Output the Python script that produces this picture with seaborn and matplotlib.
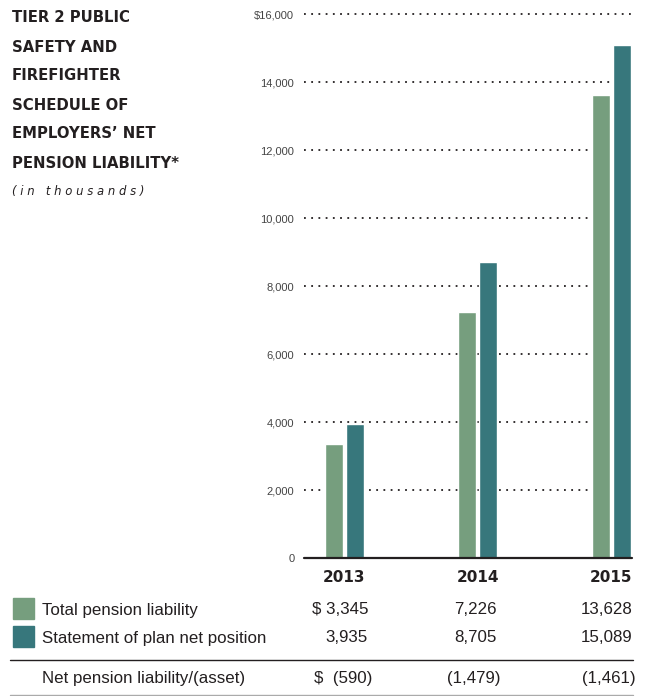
import matplotlib
matplotlib.use("Agg")
import matplotlib.pyplot as plt
from matplotlib.patches import Rectangle
from matplotlib.lines import Line2D
import seaborn as sns
import pandas as pd

# ---- data (in thousands) ----
years = ["2013", "2014", "2015"]
total_pension_liability = [3345, 7226, 13628]
plan_net_position = [3935, 8705, 15089]
net_pension_liability = ["$  (590)", "(1,479)", "(1,461)"]
total_labels = ["$ 3,345", "7,226", "13,628"]
position_labels = ["3,935", "8,705", "15,089"]
series_names = ["Total pension liability", "Statement of plan net position"]
y_ticks = [0, 2000, 4000, 6000, 8000, 10000, 12000, 14000, 16000]
y_tick_labels = ["0", "2,000", "4,000", "6,000", "8,000", "10,000", "12,000", "14,000", "$16,000"]
title_lines = ["TIER 2 PUBLIC", "SAFETY AND", "FIREFIGHTER", "SCHEDULE OF",
               "EMPLOYERS\u2019 NET", "PENSION LIABILITY*"]
subtitle = "(in thousands)"

GREEN = "#769E7E"
TEAL = "#37777C"
INK = "#231F20"

df = pd.DataFrame({
    "year": years * 2,
    "value": total_pension_liability + plan_net_position,
    "series": [series_names[0]] * 3 + [series_names[1]] * 3,
})

sns.set_theme(style="white")
plt.rcParams["font.family"] = ["Liberation Sans Narrow", "Liberation Sans", "DejaVu Sans"]

W, H = 648, 696
fig = plt.figure(figsize=(W / 100, H / 100), dpi=100)


def fx(px):
    return px / W


def fy(py):
    return 1 - py / H


ax = fig.add_axes([fx(304), fy(558), fx(632) - fx(304), fy(14) - fy(558)])
sns.barplot(data=df, x="year", y="value", hue="series", order=years,
            hue_order=series_names, palette=[GREEN, TEAL],
            width=0.315, gap=0.14, dodge=True, saturation=1,
            legend=False, ax=ax, errorbar=None)

ax.set_xlim(-0.303, 2.157)
ax.set_ylim(0, 16000)
ax.set_yticks(y_ticks)
ax.set_yticklabels(y_tick_labels, fontsize=8, color="#444444")
ax.tick_params(axis="y", length=0, pad=7)
ax.set_xticks([])
ax.set_xlabel("")
ax.set_ylabel("")
for s in ax.spines.values():
    s.set_visible(False)
ax.set_axisbelow(True)
# dotted gridlines behind the bars, solid baseline at zero
for t in y_ticks[1:]:
    ax.axhline(t, color=INK, linewidth=1.3, linestyle=(0, (1, 3)), zorder=0,
               clip_on=False)
ax.axhline(0, color=INK, linewidth=1.6, zorder=3, clip_on=False)

# year labels under each group
for i, yr in enumerate(years):
    ax.text(i, -0.022, yr, transform=ax.get_xaxis_transform(), ha="center",
            va="top", fontsize=11, fontweight="bold", color=INK,
            family="DejaVu Sans")

# ---- title block ----
for k, line in enumerate(title_lines):
    fig.text(fx(12), fy(18 + 29 * k), line, fontsize=10.7, fontweight="bold",
             color=INK, family="DejaVu Sans", va="center", ha="left")
fig.text(fx(12), fy(192), " ".join(subtitle), fontsize=8.4, fontstyle="italic",
         color=INK, family="DejaVu Sans", va="center", ha="left")

# ---- table below the chart ----
col_right = [368, 497, 632]
row_y = [610, 638, 678]
fig.patches.append(Rectangle((fx(13), fy(619)), fx(21) - fx(0), fy(598) - fy(619),
                             transform=fig.transFigure, color=GREEN, figure=fig))
fig.patches.append(Rectangle((fx(13), fy(647)), fx(21) - fx(0), fy(626) - fy(647),
                             transform=fig.transFigure, color=TEAL, figure=fig))

table_size = 12.2
fig.text(fx(42), fy(row_y[0]), series_names[0], fontsize=table_size, color=INK,
         va="center", ha="left")
fig.text(fx(42), fy(row_y[1]), series_names[1], fontsize=table_size, color=INK,
         va="center", ha="left")
fig.text(fx(42), fy(row_y[2]), "Net pension liability/(asset)", fontsize=table_size,
         color=INK, va="center", ha="left")
for c, xr in enumerate(col_right):
    fig.text(fx(xr), fy(row_y[0]), total_labels[c], fontsize=table_size, color=INK,
             va="center", ha="right")
    fig.text(fx(xr), fy(row_y[1]), position_labels[c], fontsize=table_size, color=INK,
             va="center", ha="right")
    fig.text(fx(xr + 4), fy(row_y[2]), net_pension_liability[c], fontsize=table_size,
             color=INK, va="center", ha="right")

fig.lines.append(Line2D([fx(10), fx(633)], [fy(660), fy(660)], transform=fig.transFigure,
                        color=INK, linewidth=1.0))
fig.lines.append(Line2D([fx(10), fx(633)], [fy(695), fy(695)], transform=fig.transFigure,
                        color="#AAAAAA", linewidth=1.0))

fig.savefig("out.png", dpi=100, facecolor="white")
